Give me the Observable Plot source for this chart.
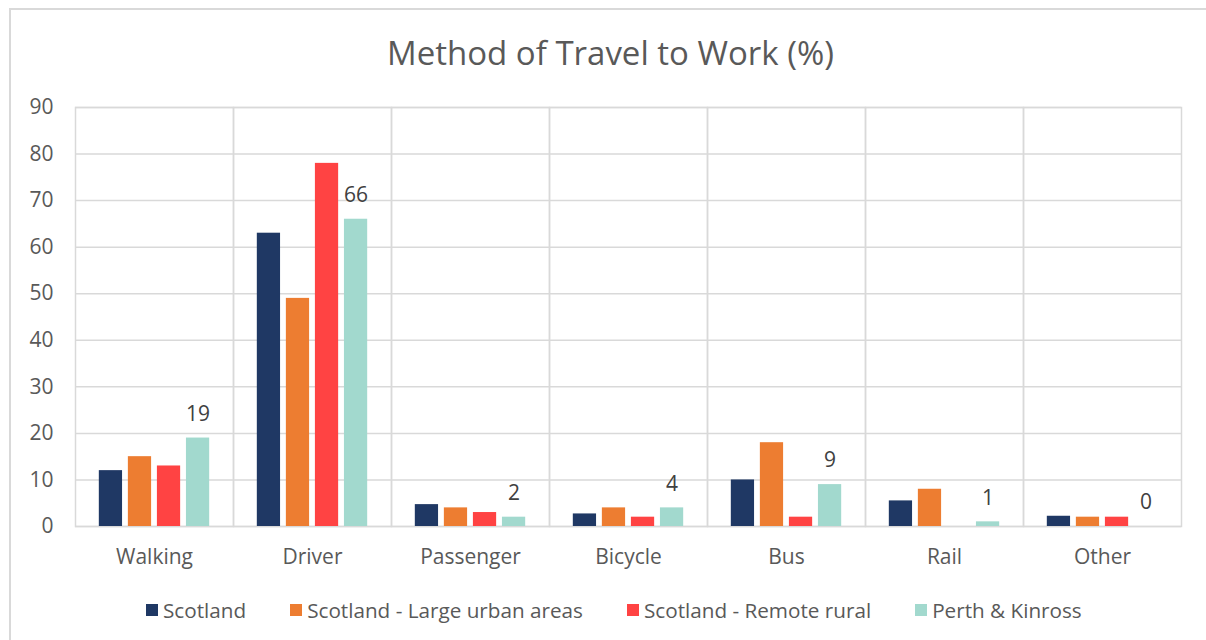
<!DOCTYPE html>
<html>
<head>
<meta charset="utf-8">
<script src="https://cdn.jsdelivr.net/npm/d3@7"></script>
<script src="https://cdn.jsdelivr.net/npm/@observablehq/plot@0.6"></script>
<style>
  html, body { margin: 0; padding: 0; background: #fff; overflow: hidden; }
  body { width: 1206px; height: 640px; position: relative; font-family: "Open Sans", sans-serif; }
  #border { position: absolute; left: 9px; top: 8px; width: 1300px; height: 800px; border: 2px solid #d9d9d9; box-sizing: border-box; }
  #title { position: absolute; left: 0; top: 31px; width: 1221px; text-align: center; font-size: 33px; line-height: 44px; color: #595959; }
  #chart { position: absolute; left: 0; top: 80px; }
  #legend { position: absolute; left: 146px; top: 597px; display: flex; gap: 44px; font-size: 20.7px; line-height: 26px; color: #595959; white-space: nowrap; }
  .item { display: flex; align-items: center; }
  .sw { width: 12px; height: 12px; margin-right: 5px; }
</style>
</head>
<body>
<div id="border"></div>
<div id="title">Method of Travel to Work (%)</div>
<div id="chart"></div>
<div id="legend"></div>
<script>
const categories = ["Walking", "Driver", "Passenger", "Bicycle", "Bus", "Rail", "Other"];
const series = ["Scotland", "Scotland - Large urban areas", "Scotland - Remote rural", "Perth & Kinross"];
const scotland = [12, 63, 4.7, 2.7, 10, 5.5, 2.2];
const largeUrban = [15, 49, 4, 4, 18, 8, 2];
const remoteRural = [13, 78, 3, 2, 2, 0, 2];
const perthKinross = [19, 66, 2, 4, 9, 1, 0];
const colors = ["#1f3864", "#ed7d31", "#ff4343", "#a2d9ce"];
const yTicks = [0, 10, 20, 30, 40, 50, 60, 70, 80, 90];

const seriesValues = [scotland, largeUrban, remoteRural, perthKinross];
const data = [];
categories.forEach((c, i) => {
  series.forEach((s, j) => {
    data.push({cat: c, series: s, value: seriesValues[j][i]});
  });
});
const labels = data.filter(d => d.series === "Perth & Kinross");

const chart = Plot.plot({
  width: 1206,
  height: 500,
  marginLeft: 74,
  marginRight: 24,
  marginTop: 27,
  marginBottom: 54,
  style: {fontFamily: "Open Sans, sans-serif", background: "transparent"},
  fx: {domain: categories, padding: 0, axis: null, label: null},
  x: {domain: series, paddingInner: 0.2, paddingOuter: 0.82, round: false, axis: null},
  y: {domain: [0, 90], axis: null},
  color: {domain: series, range: colors},
  marks: [
    Plot.gridY(yTicks, {stroke: "#d9d9d9", strokeOpacity: 1, strokeWidth: 1.5}),
    Plot.frame({stroke: "#d9d9d9", strokeWidth: 1.5}),
    Plot.barY(data.filter(d => d.value > 0), {fx: "cat", x: "series", y: "value", fill: "series"}),
    Plot.text(labels, {fx: "cat", x: "series", y: "value", text: d => String(d.value), dy: -24, fontSize: 21, fill: "#404040"}),
    Plot.axisY(yTicks, {tickSize: 0, tickPadding: 22, fontSize: 21, fill: "#595959", label: null}),
    Plot.axisFx({anchor: "bottom", tickSize: 0, tickPadding: 23, fontSize: 21, fill: "#595959", label: null})
  ]
});
document.getElementById("chart").appendChild(chart);

const legend = document.getElementById("legend");
series.forEach((s, j) => {
  const item = document.createElement("div");
  item.className = "item";
  const sw = document.createElement("span");
  sw.className = "sw";
  sw.style.background = colors[j];
  const t = document.createElement("span");
  t.textContent = s;
  item.appendChild(sw);
  item.appendChild(t);
  legend.appendChild(item);
});
</script>
</body>
</html>
